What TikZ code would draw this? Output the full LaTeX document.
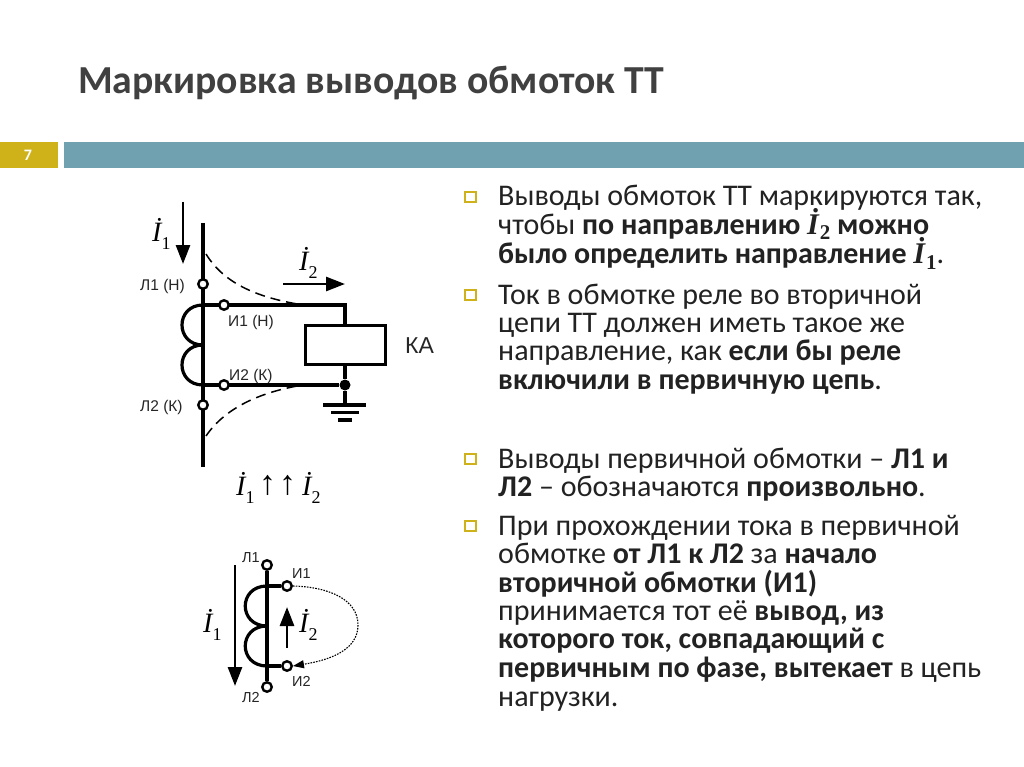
\documentclass[tikz,border=0pt]{standalone}
\usepackage{fontspec}
\setmainfont{Carlito}
\newfontfamily\tim{Liberation Serif}
\newfontfamily\lab{Liberation Sans}
\usetikzlibrary{arrows.meta}
\definecolor{gold}{HTML}{CFB21A}
\definecolor{teal2}{HTML}{6FA1B1}
\definecolor{ink}{HTML}{404040}
\definecolor{bodyink}{HTML}{222222}
\newcommand{\Cur}[2]{{\tim\itshape İ}\raisebox{-0.3em}{\tim\fontsize{#2}{#2}\selectfont #1}}
\newcommand{\Bcur}[1]{{\tim\bfseries\itshape İ}\kern1pt\raisebox{-0.2em}{\tim\bfseries\fontsize{21}{21}\selectfont #1}}
\tikzset{
 x=1pt,y=-1pt,
 body/.style={anchor=base west,inner sep=0,font=\fontsize{30}{30}\selectfont,text=bodyink},
 bul/.style={draw=gold,line width=1.6pt,fill=white,minimum size=10.5pt,inner sep=0},
 wire/.style={line width=3.2pt,black},
 term/.style={circle,draw=black,line width=2.4pt,fill=white,minimum size=9.5pt,inner sep=0},
 sm/.style={inner sep=0,font=\lab\fontsize{15.5}{17}\selectfont,text=black!85},
 smb/.style={inner sep=0,font=\lab\fontsize{14.5}{17}\selectfont,text=black!85},
 cur/.style={inner sep=0,font=\fontsize{28}{30}\selectfont,text=black},
 arr/.style={line width=2.8pt,-{Triangle[length=19pt,width=14pt]}},
}
\begin{document}
\begin{tikzpicture}
\useasboundingbox (0,0) rectangle (1024,767);
\fill[white] (0,0) rectangle (1024,767);
\node[anchor=base west,inner sep=0,font=\bfseries\fontsize{39.7}{42}\selectfont,text=ink] (title) at (78,94) {Маркировка выводов обмоток ТТ};
\fill[gold] (0,142) rectangle (58,168);
\fill[teal2] (64,142) rectangle (1024,168);
\node[inner sep=0,text=white,font=\bfseries\fontsize{16}{17}\selectfont] (num) at (28,155) {7};
% text
\node[bul] (b1) at (470.5,197) {};
\node[body] (t1) at (498,206) {Выводы обмоток ТТ маркируются так,};
\node[body] (t2) at (498,234) {чтобы \textbf{по направлению \Bcur{2} можно}};
\node[body] (t3) at (498,263) {\textbf{было определить направление \Bcur{1}}.};
\node[bul] (b2) at (470.5,295) {};
\node[body] (t4) at (498,304) {Ток в обмотке реле во вторичной};
\node[body] (t5) at (498,332) {цепи ТТ должен иметь такое же};
\node[body] (t6) at (498,360) {направление, как \textbf{если бы реле}};
\node[body] (t7) at (498,389) {\textbf{включили в первичную цепь}.};
\node[bul] (b3) at (470.5,459) {};
\node[body] (t8) at (498,468) {Выводы первичной обмотки – \textbf{Л1 и}};
\node[body] (t9) at (498,496) {\textbf{Л2} – обозначаются \textbf{произвольно}.};
\node[bul] (b4) at (470.5,526) {};
\node[body] (t10) at (498,535) {При прохождении тока в первичной};
\node[body] (t11) at (498,563) {обмотке \textbf{от Л1 к Л2} за \textbf{начало}};
\node[body] (t12) at (498,592) {\textbf{вторичной обмотки (И1)}};
\node[body] (t13) at (498,620) {принимается тот её \textbf{вывод, из}};
\node[body] (t14) at (498,648) {\textbf{которого ток, совпадающий с}};
\node[body] (t15) at (498,677) {\textbf{первичным по фазе, вытекает} в цепь};
\node[body] (t16) at (498,706) {нагрузки.};
% upper circuit
\coordinate (ptop) at (203,223);
\coordinate (pbot) at (203,467);
\coordinate (c1) at (203,305);
\coordinate (cm) at (203,345);
\coordinate (c2) at (203,385);
\coordinate (wr) at (345,305);
\coordinate (gnd) at (345,405);
\draw[wire] (ptop) -- (pbot);
\draw[wire] (c1) .. controls (175,305) and (175,345) .. (cm) .. controls (175,345) and (175,385) .. (c2);
\node[draw=black,line width=3pt,fill=white,minimum width=80pt,minimum height=39pt,inner sep=0] (ka) at (345,344.5) {};
\node[circle,fill=black,minimum size=11pt,inner sep=0] (jn) at (345,385) {};
\draw[wire] (c1) -- (wr) -- (ka.north);
\draw[wire] (c2) -- (jn);
\draw[wire] (ka.south) -- (jn) -- (gnd);
\coordinate (g1a) at (323,405); \coordinate (g1b) at (366,405);
\coordinate (g2a) at (331,412.5); \coordinate (g2b) at (359,412.5);
\coordinate (g3a) at (338,420); \coordinate (g3b) at (352,420);
\draw[wire] (g1a) -- (g1b); \draw[wire] (g2a) -- (g2b); \draw[wire] (g3a) -- (g3b);
\node[term] (l1) at (203,284) {};
\node[term] (l2) at (203,405) {};
\node[term] (i1) at (224,305) {};
\node[term] (i2) at (224,385) {};
\coordinate (d1a) at (206,254); \coordinate (d1b) at (303,305);
\coordinate (d2a) at (206,436); \coordinate (d2b) at (303,385);
\draw[line width=1.5pt,dash pattern=on 10pt off 6pt] (d1a) .. controls (225,285) and (260,298) .. (d1b);
\draw[line width=1.5pt,dash pattern=on 10pt off 6pt] (d2a) .. controls (225,408) and (260,392) .. (d2b);
\coordinate (a1s) at (183,202); \coordinate (a1e) at (183,264);
\coordinate (a2s) at (283,284); \coordinate (a2e) at (345,284);
\draw[arr] (a1s) -- (a1e);
\draw[arr] (a2s) -- (a2e);
\node[cur,anchor=base west] (li1) at (152,241) {\Cur{1}{18}};
\node[cur,anchor=base west] (li2) at (299,270) {\Cur{2}{18}};
\node[sm,anchor=base west] (ll1) at (140,290) {Л1 (Н)};
\node[sm,anchor=base west] (ll2) at (140,411) {Л2 (К)};
\node[sm,anchor=base west] (li1t) at (228,326) {И1 (Н)};
\node[sm,anchor=base west] (li2t) at (229,380) {И2 (К)};
\node[anchor=base west,inner sep=0,font=\lab\fontsize{23}{25}\selectfont,text=black!85] (kal) at (405,353) {КА};
\node[cur,anchor=base west] (rel1) at (236,495) {\Cur{1}{18}};
\node[inner sep=0,anchor=base west,font=\tim\fontsize{34}{36}\selectfont] (rela) at (259,494) {↑\kern3pt↑};
\node[cur,anchor=base west] (rel2) at (302,495) {\Cur{2}{18}};
% lower circuit
\node[term] (bl1) at (267,565) {};
\node[term] (bl2) at (267,687) {};
\coordinate (bc1) at (267,586);
\coordinate (bcm) at (267,626);
\coordinate (bc2) at (267,666);
\draw[wire] (bl1) -- (bl2);
\draw[wire] (bc1) .. controls (238,586) and (238,626) .. (bcm) .. controls (238,626) and (238,666) .. (bc2);
\node[term] (bi1) at (287,586) {};
\node[term] (bi2) at (287,666) {};
\draw[wire] (bc1) -- (bi1);
\draw[wire] (bc2) -- (bi2);
\draw[line width=1.1pt,dash pattern=on 1.6pt off 1.2pt,-{Triangle[length=11pt,width=8pt]}] (bi1.east) .. controls (330,587) and (358,600) .. (358,625) .. controls (358,650) and (330,660) .. (bi2.east);
\coordinate (ba1s) at (235,565); \coordinate (ba1e) at (235,686);
\coordinate (ba2s) at (287,648); \coordinate (ba2e) at (287,607);
\draw[arr] (ba1s) -- (ba1e);
\draw[arr] (ba2s) -- (ba2e);
\node[cur,anchor=base west] (bli1) at (203,632) {\Cur{1}{18}};
\node[cur,anchor=base west] (bli2) at (299,632) {\Cur{2}{18}};
\node[smb,anchor=base west] (bl1t) at (242,562) {Л1};
\node[smb,anchor=base west] (bi1t) at (292,578) {И1};
\node[smb,anchor=base west] (bi2t) at (292,686) {И2};
\node[smb,anchor=base west] (bl2t) at (242,702) {Л2};
\end{tikzpicture}
\end{document}
